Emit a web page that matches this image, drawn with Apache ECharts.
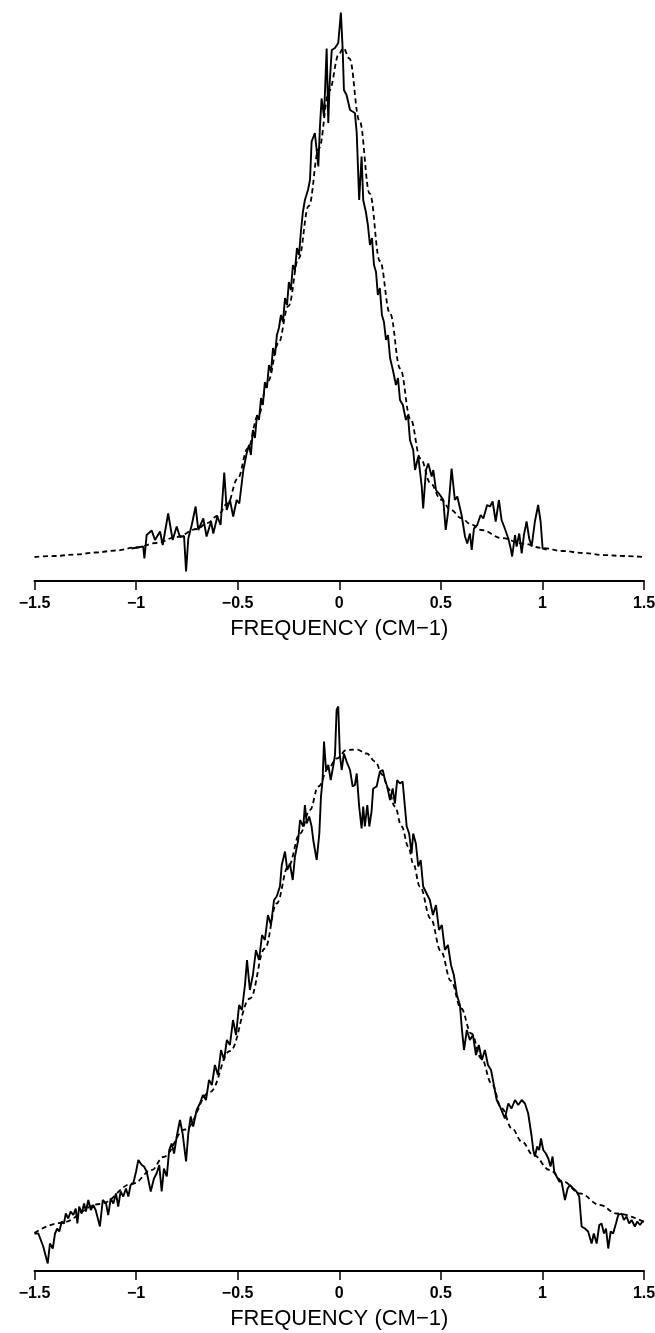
<!DOCTYPE html>
<html>
<head>
<meta charset="utf-8">
<title>Frequency profiles</title>
<script src="https://cdn.jsdelivr.net/npm/echarts@6/dist/echarts.min.js"></script>
<style>
  html, body { margin: 0; padding: 0; background: #fff; }
  #main { width: 655px; height: 1333px; }
</style>
</head>
<body>
<div id="main"></div>
<script>
// x axis ticks (frequency, cm-1)
var xTicks = [-1.5, -1, -0.5, 0, 0.5, 1, 1.5];

// upper panel: measured profile
var topFreq = [-1.022,-0.965,-0.959,-0.948,-0.923,-0.907,-0.882,-0.869,-0.842,-0.820,
  -0.800,-0.784,-0.764,-0.754,-0.743,-0.726,-0.707,-0.694,-0.669,-0.653,
  -0.631,-0.620,-0.600,-0.584,-0.566,-0.554,-0.538,-0.522,-0.505,-0.492,
  -0.472,-0.456,-0.444,-0.435,-0.425,-0.415,-0.405,-0.395,-0.385,-0.376,
  -0.366,-0.356,-0.346,-0.336,-0.326,-0.316,-0.307,-0.297,-0.287,-0.277,
  -0.267,-0.257,-0.248,-0.238,-0.228,-0.218,-0.208,-0.198,-0.188,-0.179,
  -0.169,-0.154,-0.144,-0.136,-0.120,-0.103,-0.095,-0.087,-0.075,-0.062,
  -0.054,-0.048,-0.037,-0.021,-0.005,0.008,0.017,0.023,0.036,0.053,
  0.077,0.086,0.098,0.110,0.118,0.131,0.141,0.151,0.161,0.171,
  0.181,0.190,0.200,0.210,0.220,0.230,0.240,0.250,0.264,0.279,
  0.289,0.299,0.313,0.328,0.338,0.348,0.364,0.373,0.389,0.406,
  0.413,0.427,0.438,0.455,0.463,0.476,0.496,0.512,0.524,0.536,
  0.553,0.569,0.581,0.602,0.619,0.630,0.643,0.652,0.663,0.679,
  0.696,0.709,0.728,0.742,0.755,0.770,0.786,0.799,0.815,0.832,
  0.844,0.851,0.865,0.873,0.886,0.898,0.909,0.922,0.935,0.947,
  0.963,0.979,0.991,1.001,1.021];
var topSignal = [6.5,6.9,4.5,9.2,10.1,8.2,9.9,7.2,13.5,8.2,
  10.9,8.8,9.0,1.9,8.5,11.2,14.9,10.2,12.5,8.9,
  11.9,9.5,12.9,11.2,21.7,14.2,16.2,12.9,16.2,15.5,
  22.2,25.5,27.2,25.2,30.2,28.6,33.2,32.2,36.6,35.2,
  39.8,38.6,43.2,41.8,46.6,45.2,49.2,50.6,53.2,51.8,
  56.6,55.2,59.8,58.2,63.2,62.2,66.6,65.2,70.2,73.8,
  76.2,78.2,80.2,87.9,89.6,82.9,90.9,96.5,92.9,106.5,
  91.6,98.9,106.2,106.6,107.6,113.7,106.2,98.2,97.2,94.2,
  93.6,89.6,76.2,84.9,76.2,73.8,71.2,67.2,68.6,63.2,
  61.8,57.2,58.6,53.2,51.8,48.2,49.2,44.6,42.2,39.2,
  40.6,36.2,35.2,32.2,33.2,28.2,26.2,22.2,24.9,18.9,
  14.5,22.2,23.5,20.9,22.2,18.2,17.2,16.2,10.2,13.9,
  22.5,16.2,16.9,13.2,8.9,7.5,9.5,6.2,10.5,11.2,
  13.2,12.5,15.2,14.9,15.9,11.9,16.2,12.2,10.5,8.5,
  6.5,4.9,9.2,6.9,9.5,5.5,9.2,11.9,8.5,6.9,
  11.9,15.2,11.9,6.5,6.3];

// upper panel: fitted profile (dashed)
var topFitFreq = [-1.5,-1.4,-1.3,-1.2,-1.1,-1.0,-0.9,-0.8,-0.7,-0.65,-0.6,-0.55,-0.5,-0.45,-0.4,-0.35,
  -0.3,-0.25,-0.2,-0.15,-0.1,-0.05,0,0.02,0.05,0.1,0.15,0.2,0.25,0.3,0.35,0.4,0.45,0.5,0.55,0.6,
  0.65,0.7,0.8,0.9,1.0,1.1,1.2,1.3,1.4,1.5];
var topFit = [4.8,5.0,5.3,5.7,6.1,6.7,7.6,8.8,10.4,11.6,13,15.5,20.5,26.5,33,40,
  47.5,55,64.5,75,86.5,98,105.5,106.6,104.5,92,77.5,64,53.5,42.5,32.5,24.5,19.5,16.3,14.2,12.6,
  11.3,10.2,8.6,7.5,6.6,6.0,5.6,5.2,5.0,4.8];

// lower panel: measured profile
var botFreq = [-1.5,-1.481,-1.457,-1.435,-1.424,-1.410,-1.399,-1.388,-1.378,-1.366,
  -1.355,-1.346,-1.334,-1.322,-1.309,-1.297,-1.289,-1.280,-1.268,-1.256,
  -1.247,-1.235,-1.223,-1.211,-1.199,-1.178,-1.164,-1.148,-1.137,-1.125,
  -1.112,-1.099,-1.088,-1.076,-1.063,-1.050,-1.038,-1.027,-1.014,-1.000,
  -0.989,-0.972,-0.961,-0.948,-0.928,-0.912,-0.899,-0.886,-0.874,-0.863,
  -0.849,-0.837,-0.825,-0.813,-0.800,-0.784,-0.771,-0.754,-0.743,-0.731,
  -0.719,-0.702,-0.686,-0.671,-0.656,-0.641,-0.627,-0.612,-0.597,-0.582,
  -0.567,-0.553,-0.538,-0.523,-0.508,-0.493,-0.479,-0.464,-0.454,-0.440,
  -0.425,-0.410,-0.395,-0.380,-0.366,-0.351,-0.336,-0.321,-0.308,-0.292,
  -0.283,-0.267,-0.256,-0.243,-0.229,-0.218,-0.202,-0.193,-0.177,-0.169,
  -0.160,-0.148,-0.136,-0.128,-0.111,-0.098,-0.090,-0.082,-0.075,-0.065,
  -0.054,-0.042,-0.030,-0.021,-0.013,-0.005,0.003,0.012,0.023,0.036,
  0.053,0.066,0.077,0.086,0.098,0.110,0.118,0.126,0.138,0.148,
  0.159,0.167,0.184,0.200,0.214,0.225,0.236,0.250,0.263,0.274,
  0.285,0.299,0.312,0.323,0.332,0.344,0.356,0.364,0.377,0.389,
  0.401,0.413,0.430,0.446,0.461,0.476,0.491,0.505,0.520,0.535,
  0.550,0.564,0.579,0.594,0.604,0.614,0.628,0.643,0.658,0.673,
  0.687,0.702,0.717,0.732,0.747,0.761,0.775,0.791,0.815,0.832,
  0.848,0.865,0.881,0.898,0.914,0.930,0.947,0.955,0.963,0.974,
  0.984,0.993,1.004,1.017,1.029,1.040,1.050,1.058,1.070,1.083,
  1.094,1.111,1.124,1.135,1.152,1.168,1.181,1.193,1.209,1.225,
  1.242,1.253,1.267,1.280,1.291,1.303,1.313,1.324,1.336,1.348,
  1.362,1.373,1.390,1.401,1.414,1.427,1.439,1.455,1.467,1.480,
  1.493,1.5];
var botSignal = [7.5,7.5,4.9,1.5,5.5,4.5,7.5,8.5,7.9,9.9,
  9.5,11.5,10.5,11.9,11.2,12.5,9.5,12.9,11.5,13.5,
  11.9,14.2,12.2,13.2,12.2,8.9,14.2,13.5,11.2,14.5,
  13.5,15.5,12.9,15.9,14.9,16.5,14.9,17.2,17.5,19.9,
  22.2,21.2,20.9,19.9,15.9,18.5,19.5,21.2,15.9,20.5,
  18.9,24.2,25.5,23.5,26.9,30.2,27.5,21.9,27.5,30.9,
  28.9,32.2,33.5,35.2,34.2,38.2,37.2,41.2,39.2,44.2,
  42.2,46.2,45.2,50.2,47.2,53.2,52.2,57.2,62.2,56.2,
  59.2,64.2,62.2,67.2,66.2,71.2,69.2,74.2,74.9,76.9,
  81.2,83.9,80.2,81.5,78.2,82.9,86.2,90.2,88.9,93.2,
  89.5,90.9,88.9,86.2,82.2,87.5,94.9,98.2,105.9,100.2,
  101.2,98.2,100.9,103.2,112.2,112.9,103.2,100.2,103.5,101.9,
  100.2,96.9,97.2,99.5,92.9,88.5,92.9,88.9,93.2,88.9,
  91.9,96.5,96.9,99.9,100.2,98.2,96.9,94.2,96.5,93.5,
  98.2,97.5,97.9,92.9,88.9,87.5,83.5,87.5,85.5,80.9,
  82.2,76.9,75.5,74.2,71.2,73.2,68.2,69.2,64.2,65.2,
  61.2,59.2,55.2,53.2,48.2,44.2,48.2,46.2,47.2,43.2,
  45.2,42.2,44.2,41.2,40.2,37.2,34.2,32.9,30.5,33.5,
  32.5,34.2,33.2,34.2,33.5,31.5,26.9,24.2,22.9,24.9,
  24.2,26.5,24.2,23.5,22.5,20.9,22.9,19.9,18.9,17.9,
  17.9,14.2,16.5,17.2,16.5,15.9,14.9,8.9,8.5,7.9,
  5.5,7.5,5.5,9.2,9.5,7.5,8.5,4.5,7.9,7.5,
  9.5,11.2,11.5,10.2,10.9,9.5,10.2,8.9,9.9,9.2,
  9.9,9.9];

// lower panel: fitted profile (dashed)
var botFitFreq = [-1.5,-1.375,-1.178,-1.014,-0.923,-0.866,-0.759,-0.636,-0.538,-0.439,
  -0.366,-0.308,-0.251,-0.193,-0.144,-0.103,-0.054,-0.013,0.036,0.086,
  0.135,0.176,0.214,0.241,0.274,0.307,0.340,0.364,0.397,0.45,
  0.5,0.55,0.6,0.65,0.7,0.75,0.8,0.85,0.9,0.955,
  1.037,1.102,1.185,1.283,1.365,1.5];
var botFit = [7.6,9.6,13.4,17.5,20.2,22.8,28.3,35.8,44,54.5,
  64.5,73.5,80.9,87.5,92.2,96.9,100.5,102.5,104.2,104.3,
  103.5,101.9,99.2,96.5,92.9,88.9,84.9,81.5,76.9,70.5,
  64,58,52.5,47.5,42.5,37.5,32.5,28.5,25.8,23.2,
  20.2,17.9,15.5,13.2,11.5,9.8];

function pairs(xs, ys) {
  var out = [];
  for (var i = 0; i < xs.length; i++) {
    out.push([xs[i], ys[i]]);
  }
  return out;
}

function makeXAxis(gridIndex) {
  return {
    type: 'value',
    gridIndex: gridIndex,
    min: xTicks[0],
    max: xTicks[xTicks.length - 1],
    interval: 0.5,
    name: 'FREQUENCY (CM\u22121)',
    nameLocation: 'middle',
    nameGap: 37,
    nameTextStyle: { color: '#000', fontSize: 22, fontFamily: 'Liberation Sans' },
    axisLine: { show: true, onZero: false, lineStyle: { color: '#000', width: 2 } },
    axisTick: { show: true, inside: false, length: 9, lineStyle: { color: '#000', width: 1.5 } },
    axisLabel: {
      margin: 15,
      color: '#000',
      fontSize: 16,
      fontWeight: 'bold',
      fontFamily: 'Liberation Sans',
      formatter: function (v) { return String(v).replace('-', '\u2212'); }
    },
    splitLine: { show: false }
  };
}

function makeYAxis(gridIndex) {
  return {
    type: 'value',
    gridIndex: gridIndex,
    min: 0,
    max: 116,
    show: false
  };
}

var myChart = echarts.init(document.getElementById('main'), null, { renderer: 'canvas' });

var solidStyle = { color: '#000', width: 1.9 };
var dashStyle = { color: '#000', width: 1.8, type: [5, 3.5] };

var option = {
  backgroundColor: '#fff',
  animation: false,
  grid: [
    { left: 34.5, right: 11, top: 1, height: 580, outerBoundsMode: 'none' },
    { left: 34.5, right: 11, top: 691, height: 580, outerBoundsMode: 'none' }
  ],
  xAxis: [makeXAxis(0), makeXAxis(1)],
  yAxis: [makeYAxis(0), makeYAxis(1)],
  series: [
    {
      name: 'fit top', type: 'line', xAxisIndex: 0, yAxisIndex: 0,
      data: pairs(topFitFreq, topFit), showSymbol: false, symbol: 'none',
      smooth: 0.4, smoothMonotone: 'x', lineStyle: dashStyle, z: 2
    },
    {
      name: 'signal top', type: 'line', xAxisIndex: 0, yAxisIndex: 0,
      data: pairs(topFreq, topSignal), showSymbol: false, symbol: 'none',
      lineStyle: solidStyle, z: 3
    },
    {
      name: 'fit bottom', type: 'line', xAxisIndex: 1, yAxisIndex: 1,
      data: pairs(botFitFreq, botFit), showSymbol: false, symbol: 'none',
      smooth: 0.4, smoothMonotone: 'x', lineStyle: dashStyle, z: 2
    },
    {
      name: 'signal bottom', type: 'line', xAxisIndex: 1, yAxisIndex: 1,
      data: pairs(botFreq, botSignal), showSymbol: false, symbol: 'none',
      lineStyle: solidStyle, z: 3
    }
  ]
};

myChart.setOption(option);
</script>
</body>
</html>
